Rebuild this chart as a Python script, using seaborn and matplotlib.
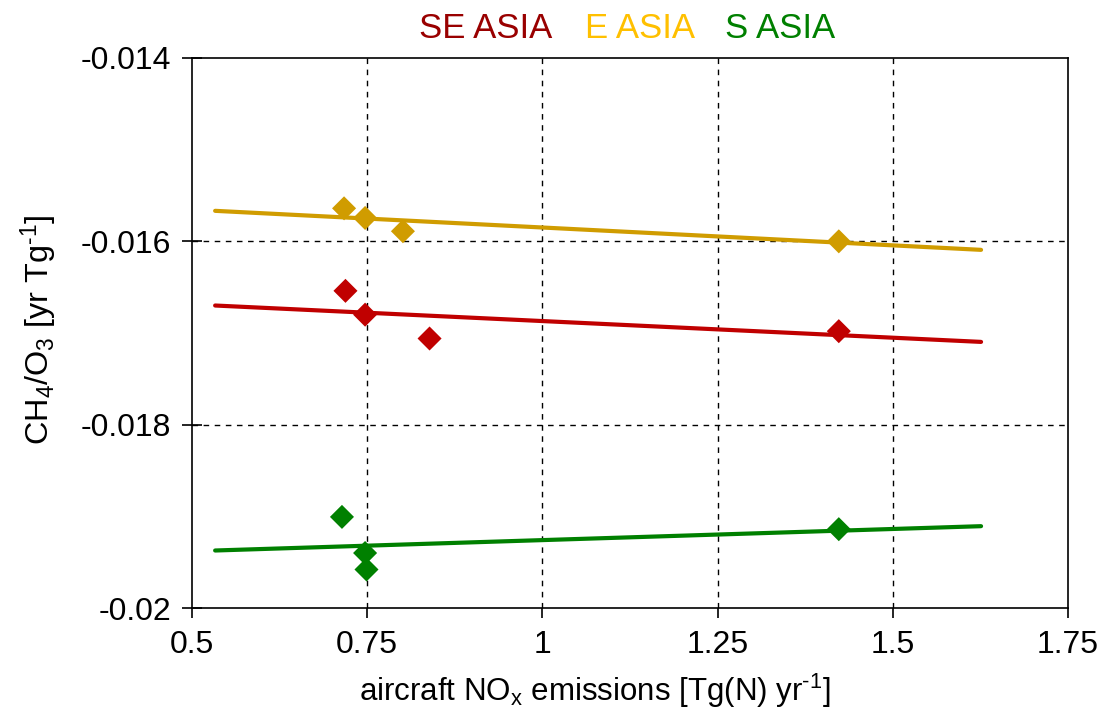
import numpy as np
import pandas as pd
import matplotlib
matplotlib.use("Agg")
import matplotlib.pyplot as plt
import seaborn as sns

# values
regions = ["SE ASIA", "E ASIA", "S ASIA"]
se_asia_x = [0.719, 0.747, 0.839, 1.423]
se_asia_y = [-0.01654, -0.01680, -0.01706, -0.01698]
e_asia_x = [0.717, 0.747, 0.801, 1.423]
e_asia_y = [-0.01564, -0.015745, -0.01589, -0.01600]
s_asia_x = [0.714, 0.747, 0.749, 1.423]
s_asia_y = [-0.019006, -0.01940, -0.01958, -0.01914]

# trendline span used in the original
trend_x = [0.533, 1.626]

marker_colors = {"SE ASIA": "#C00000", "E ASIA": "#D09C00", "S ASIA": "#008000"}
label_colors = {"SE ASIA": "#990000", "E ASIA": "#FFC000", "S ASIA": "#008000"}

sns.set_style("white")
plt.rcParams["font.family"] = ["Liberation Sans", "DejaVu Sans"]
plt.rcParams["mathtext.fontset"] = "custom"
plt.rcParams["mathtext.rm"] = "Liberation Sans"
plt.rcParams["mathtext.it"] = "Liberation Sans"
plt.rcParams["mathtext.default"] = "regular"
plt.rcParams["text.color"] = "black"
plt.rcParams["axes.labelcolor"] = "black"
plt.rcParams["xtick.color"] = "black"
plt.rcParams["ytick.color"] = "black"

df = pd.concat([
    pd.DataFrame({"x": se_asia_x, "y": se_asia_y, "region": "SE ASIA"}),
    pd.DataFrame({"x": e_asia_x, "y": e_asia_y, "region": "E ASIA"}),
    pd.DataFrame({"x": s_asia_x, "y": s_asia_y, "region": "S ASIA"}),
], ignore_index=True)

fig = plt.figure(figsize=(11.06, 7.24), dpi=100)
ax = fig.add_axes([0.1736, 0.1602, 0.7920, 0.7597])

# linear fits (like Excel trendlines)
for r in regions:
    sub = df[df.region == r]
    slope, icpt = np.polyfit(sub.x, sub.y, 1)
    tx = np.array(trend_x)
    sns.lineplot(x=tx, y=slope * tx + icpt, ax=ax, color=marker_colors[r],
                 linewidth=3, zorder=3, solid_capstyle="round")

sns.scatterplot(data=df, x="x", y="y", hue="region", palette=marker_colors,
                marker="D", s=150, linewidth=0, ax=ax, legend=False, zorder=4)

ax.set_xlim(0.5, 1.75)
ax.set_ylim(-0.02, -0.014)
ax.set_xticks([0.5, 0.75, 1.0, 1.25, 1.5, 1.75])
ax.set_xticklabels(["0.5", "0.75", "1", "1.25", "1.5", "1.75"])
ax.set_yticks([-0.02, -0.018, -0.016, -0.014])
ax.set_yticklabels(["-0.02", "-0.018", "-0.016", "-0.014"])

for gx in [0.75, 1.0, 1.25, 1.5]:
    ax.axvline(gx, color="black", linestyle=(0, (4, 4)), linewidth=1, zorder=1)
for gy in [-0.018, -0.016]:
    ax.axhline(gy, color="black", linestyle=(0, (4, 4)), linewidth=1, zorder=1)

for sp in ax.spines.values():
    sp.set_color("black")
    sp.set_linewidth(1.2)

ax.tick_params(axis="x", direction="out", length=7, width=1.2, labelsize=23,
               pad=9, bottom=True)
ax.tick_params(axis="y", direction="inout", length=14, width=1.2, labelsize=23,
               pad=8, left=True)

ax.set_xlabel("aircraft NO$_x$ emissions [Tg(N) yr$^{\u20101}$]", fontsize=22.5)
ax.set_ylabel("CH$_4$/O$_3$ [yr Tg$^{\u20101}$]", fontsize=23.3)
ax.xaxis.set_label_coords(0.46, -0.115)
ax.yaxis.set_label_coords(-0.151, 0.505)

# coloured legend text above the plot
for r, xpos in zip(regions, [486, 640, 780]):
    fig.text(xpos / 1106, 1 - 28 / 724, r, color=label_colors[r], fontsize=25,
             ha="center", va="center")

fig.savefig("out.png", dpi=100)
